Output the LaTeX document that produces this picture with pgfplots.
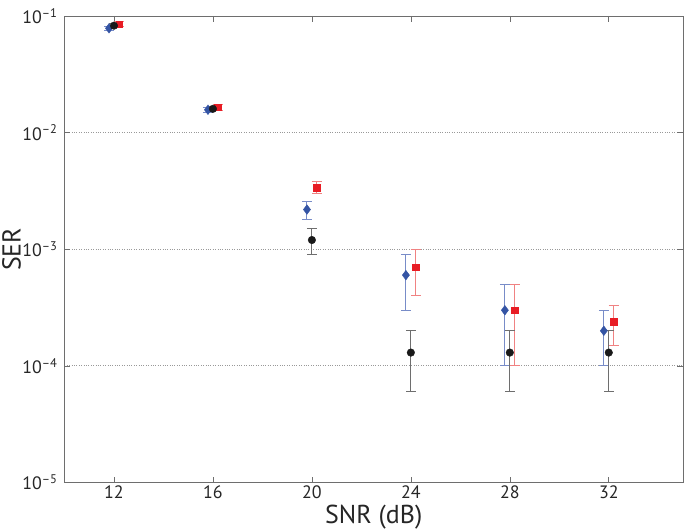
\documentclass[border=0pt]{standalone}
\usepackage{fontspec}
\setmainfont{PT Sans}
\usepackage{pgfplots}
\pgfplotsset{compat=1.18}
\definecolor{cblue}{RGB}{52,84,164}
\definecolor{cblueL}{RGB}{120,140,200}
\definecolor{cred}{RGB}{232,28,36}
\definecolor{credL}{RGB}{240,130,130}
\definecolor{cgray}{RGB}{110,110,110}
\definecolor{cblack}{RGB}{25,25,25}
\begin{document}
\begin{tikzpicture}
\begin{axis}[
  width=618.5bp, height=466.5bp, scale only axis,
  xmin=10, xmax=35,
  ymode=log, log basis y=10, ymin=1e-5, ymax=1e-1,
  xtick={12,16,20,24,28,32},
  ytick={1e-5,1e-4,1e-3,1e-2,1e-1},
  yticklabels={10\textsuperscript{\textendash5},10\textsuperscript{\textendash4},10\textsuperscript{\textendash3},10\textsuperscript{\textendash2},10\textsuperscript{\textendash1}},
  /pgf/number format/assume math mode=true,
  tick align=inside,
  major tick length=6bp, minor tick length=3.5bp,
  axis line style={cgray, line width=0.7pt},
  every tick/.style={cgray, line width=0.6pt},
  ymajorgrids, grid style={dotted, gray!80, line width=0.9pt},
  tick label style={font=\fontsize{18}{21}\selectfont, text=black!85},
  yticklabel style={xshift=-3.5bp},
  label style={font=\fontsize{26}{30}\selectfont, text=black!85},
  xlabel={SNR (dB)}, ylabel={SER},
  xlabel style={at={(axis description cs:0.5,-0.0875)}, anchor=base},
  ylabel style={at={(axis description cs:-0.0857,0.5)}, anchor=center},
  clip=false,
]
\coordinate (sw) at (rel axis cs:0,0);
\coordinate (ne) at (rel axis cs:1,1);
% blue diamonds
\addplot[only marks, mark=diamond*, mark size=4.8bp, color=cblue,
  error bars/.cd, y dir=both, y explicit,
  error bar style={cblueL, line width=1pt},
  error mark options={rotate=90, mark size=5bp, cblueL, line width=1pt}]
  table[x=x, y=y, y error plus=ep, y error minus=em] {
x     y        ep       em
11.8  0.0785   0.003    0.003
15.8  0.0157   0.0007   0.0007
19.8  0.00219  0.0004   0.0004
23.8  0.0006   0.0003   0.0003
27.8  0.0003   0.0002   0.0002
31.8  0.0002   0.0001   0.0001
};
% red squares
\addplot[only marks, mark=square*, mark size=3.2bp, color=cred,
  error bars/.cd, y dir=both, y explicit,
  error bar style={credL, line width=1pt},
  error mark options={rotate=90, mark size=5bp, credL, line width=1pt}]
  table[x=x, y=y, y error plus=ep, y error minus=em] {
x     y        ep       em
12.2  0.085    0.004    0.004
16.2  0.0165   0.001    0.001
20.2  0.00338  0.0004   0.00037
24.2  0.0007   0.0003   0.0003
28.2  0.0003   0.0002   0.0002
32.2  0.00024  0.00009  0.00009
};
% black circles
\addplot[only marks, mark=*, mark size=3.8bp, color=cblack,
  error bars/.cd, y dir=both, y explicit,
  error bar style={cgray, line width=1pt},
  error mark options={rotate=90, mark size=5bp, cgray, line width=1pt}]
  table[x=x, y=y, y error plus=ep, y error minus=em] {
x     y        ep       em
12    0.0826   0.003    0.003
16    0.016    0.0006   0.0006
20    0.0012   0.0003   0.0003
24    0.00013  0.00007  0.00007
28    0.00013  0.00007  0.00007
32    0.00013  0.00007  0.00007
};
\end{axis}
\pgfresetboundingbox
\path ([shift={(-64.5bp,-47.5bp)}]sw) rectangle ([shift={(2bp,16bp)}]ne);
\end{tikzpicture}
\end{document}
